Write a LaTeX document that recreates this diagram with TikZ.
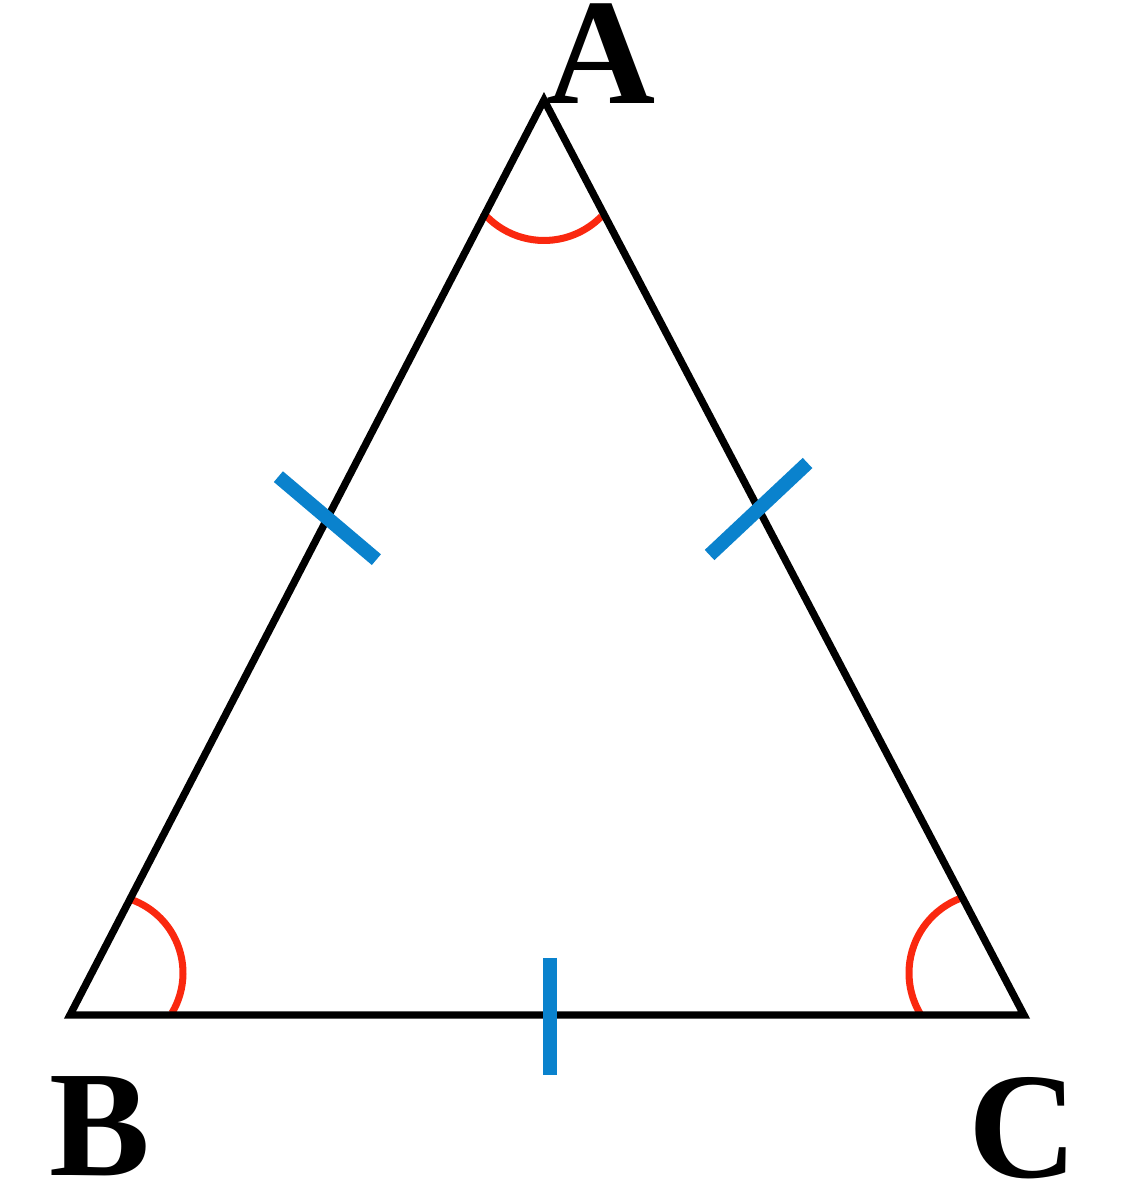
\documentclass[tikz,border=0pt]{standalone}
\usepackage{fontspec}
\setmainfont{Liberation Serif}
\usetikzlibrary{calc}
\definecolor{angred}{RGB}{250,40,15}
\definecolor{tickblue}{RGB}{10,130,205}
\tikzstyle{side} = [draw, line width=2.1pt, line join=miter]
\tikzstyle{tickmark} = [draw=tickblue, line width=4pt]
\tikzstyle{anglemark} = [draw=angred, line width=2pt]
\tikzstyle{vertex label} = [inner sep=0pt, font=\bfseries\fontsize{43}{48}\selectfont]

\begin{document}
\begin{tikzpicture}
        \useasboundingbox (0,0) rectangle (11.41,12);

        \coordinate (A) at (5.44,11.00);
        \coordinate (B) at (0.70,1.85);
        \coordinate (C) at (10.24,1.85);

        \node[vertex label] (labA) at (6.01,11.46) {A};
        \node[vertex label] (labB) at (1.00,0.74) {B};
        \node[vertex label] (labC) at (10.23,0.72) {C};

        % angle marks
        \draw[anglemark] (5.44,10.40) ++(220.4:0.805) arc[start angle=220.4, end angle=315.5, radius=0.805];
        \draw[anglemark] (1.05,2.27) ++(-30.8:0.78) arc[start angle=-30.8, end angle=69, radius=0.78];
        \draw[anglemark] (9.89,2.27) ++(111.5:0.80) arc[start angle=111.5, end angle=210.5, radius=0.80];

        \draw[side] (A) -- (B) -- (C) -- cycle;

        % equal sides
        \draw[tickmark] ($(A)!0.457!(B)$) ++(-0.49,0.415) -- ++(0.98,-0.83);
        \draw[tickmark] ($(A)!0.447!(C)$) ++(-0.49,-0.46) -- ++(0.98,0.92);
        \draw[tickmark] (5.50,2.42) -- (5.50,1.25);
\end{tikzpicture}
\end{document}
